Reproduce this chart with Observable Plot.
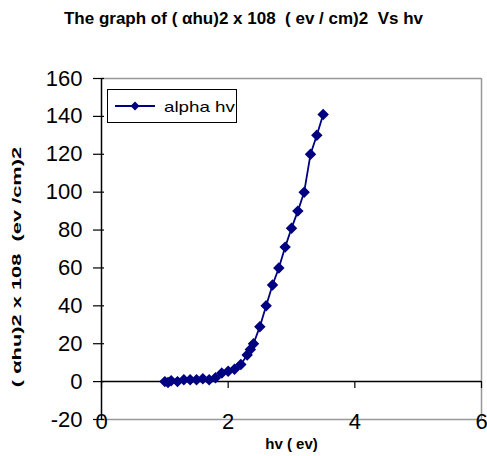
<!DOCTYPE html>
<html><head><meta charset="utf-8">
<script src="https://cdn.jsdelivr.net/npm/d3@7"></script>
<script src="https://cdn.jsdelivr.net/npm/@observablehq/plot@0.6"></script>
<style>
body{margin:0;background:#fff;font-family:"Liberation Sans",Arial,sans-serif;}
#wrap{position:relative;width:487px;height:456px;overflow:hidden;}
#title{position:absolute;left:0;top:9px;width:487px;text-align:center;font-weight:bold;font-size:17px;white-space:pre;line-height:20px;}
#chart{position:absolute;left:0;top:40px;}
#ytitle{position:absolute;left:17px;top:267px;transform:translate(-50%,-50%) rotate(-90deg) scaleX(1.68);white-space:pre;font-weight:bold;font-size:13px;line-height:14px;}
#legend{position:absolute;left:107px;top:89px;width:128px;height:32px;border:1px solid #000;background:#fff;display:flex;align-items:center;}
#legend span{font-size:15px;margin-left:5px;display:inline-block;transform:scaleX(1.25);transform-origin:left center;}
</style>
</head><body>
<div id="wrap">
<div id="title"></div>
<div id="chart"></div>
<div id="ytitle"></div>
<div id="legend"></div>
</div>
<script>
const titleText = "The graph of ( αhu)2 x 108  ( ev / cm)2  Vs hv";
const yTitle = "( αhu)2 x 108  (ev /cm)2";
const xTitle = "hv ( ev)";
const seriesName = "alpha hv";
const hv =        [1.0, 1.05, 1.1, 1.2, 1.3, 1.4, 1.5, 1.6, 1.7, 1.8, 1.9, 2.0, 2.1, 2.2, 2.3, 2.35, 2.4, 2.5, 2.6, 2.7, 2.8, 2.9, 3.0, 3.1, 3.2, 3.3, 3.4, 3.5];
const alphaHv2 =  [0,  -0.5,  0.5, 0,   1,   1,   1,   1.5, 1,   2,   4.5, 5.5, 6.5, 9,   14,  17,   20,  29,  40,  51,  60,  71,  81,  90,  100, 120, 130, 141];
const xTicks = [0, 2, 4, 6];
const yTicks = [-20, 0, 20, 40, 60, 80, 100, 120, 140, 160];
const navy = "#000080";

const data = hv.map((x, i) => ({x, y: alphaHv2[i]}));

document.getElementById("title").textContent = titleText;
document.getElementById("ytitle").textContent = yTitle;
document.getElementById("legend").innerHTML =
  `<svg width="44" height="16" style="margin-left:7px"><line x1="0" y1="8" x2="40" y2="8" stroke="${navy}" stroke-width="2"/><path d="M20,3.5L24.5,8L20,12.5L15.5,8Z" fill="${navy}"/></svg><span>${seriesName}</span>`;

const chart = Plot.plot({
  width: 487, height: 416,
  marginTop: 38, marginBottom: 37, marginLeft: 101, marginRight: 6,
  x: {domain: [0, 6], axis: null},
  y: {domain: [-20, 160], axis: null},
  style: {fontFamily: "'Liberation Sans', Arial, sans-serif", background: "#fff"},
  marks: [
    Plot.ruleY([-20, 160], {stroke: "#999", strokeWidth: 1.5}),
    Plot.ruleX([6], {stroke: "#999", strokeWidth: 1.5}),
    Plot.ruleX([0], {stroke: "#000", strokeWidth: 1.5}),
    Plot.ruleY([0], {stroke: "#000", strokeWidth: 1.5}),
    Plot.ruleY(yTicks, {y: d => d, x1: 0, x2: 0, insetLeft: -8, insetRight: -3, stroke: "#000", strokeWidth: 1.2}),
    Plot.ruleX(xTicks, {x: d => d, y1: 0, y2: 0, insetBottom: -7, stroke: "#000", strokeWidth: 1.2}),
    Plot.text(yTicks, {y: d => d, frameAnchor: "left", dx: -19, textAnchor: "end", fontSize: 22, fill: "#000", text: d => String(d)}),
    Plot.text(xTicks, {x: d => d, frameAnchor: "bottom", dy: 2, lineAnchor: "middle", fontSize: 22, fill: "#000", text: d => String(d)}),
    Plot.text([xTitle], {frameAnchor: "bottom", dy: 25, lineAnchor: "middle", fontSize: 15, fontWeight: "bold", fill: "#000"}),
    Plot.line(data, {x: "x", y: "y", stroke: navy, strokeWidth: 1.8}),
    Plot.dot(data, {x: "x", y: "y", symbol: "diamond2", r: 4.2, fill: navy, stroke: navy})
  ]
});
document.getElementById("chart").appendChild(chart);
</script>
</body></html>
